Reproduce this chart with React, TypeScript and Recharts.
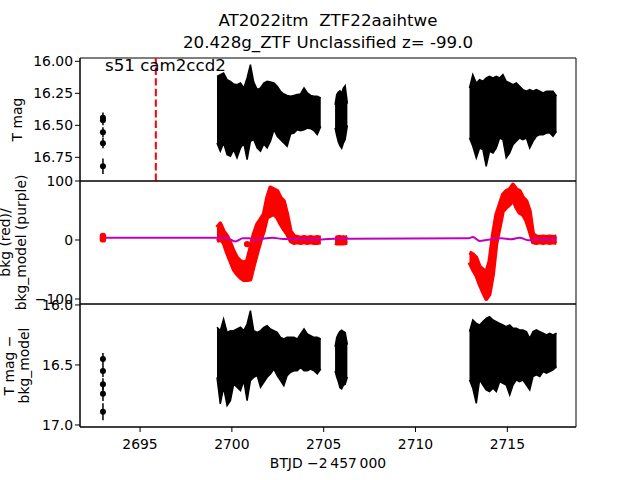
import React from "react";
import {
  ComposedChart,
  Area,
  Line,
  Scatter,
  ErrorBar,
  XAxis,
  YAxis,
  ReferenceLine,
  ReferenceArea,
} from "recharts";

const FONT = "DejaVu Sans, sans-serif";
const X_DOMAIN: [number, number] = [2691.73, 2718.74];

// time grids for the three TESS orbits segments (BTJD - 2457000)
const daysA = [
  2699.19, 2699.37, 2699.55, 2699.74, 2699.92, 2700.1, 2700.28, 2700.47, 2700.65, 2700.83,
  2701.01, 2701.19, 2701.38, 2701.56, 2701.74, 2701.92, 2702.1, 2702.29, 2702.47, 2702.65,
  2702.83, 2703.01, 2703.2, 2703.38, 2703.56, 2703.74, 2703.93, 2704.11, 2704.29, 2704.47,
  2704.65, 2704.84,
];
const daysB = [2705.62, 2705.71, 2705.8, 2705.89, 2705.98, 2706.07, 2706.17, 2706.29];
const daysC = [
  2712.94, 2713.12, 2713.31, 2713.49, 2713.67, 2713.85, 2714.03, 2714.22, 2714.4, 2714.58,
  2714.76, 2714.94, 2715.13, 2715.31, 2715.49, 2715.67, 2715.85, 2716.04, 2716.22, 2716.4,
  2716.58, 2716.77, 2716.95, 2717.13, 2717.31, 2717.49, 2717.68,
];

// T mag: upper / lower edge of the errorbar cloud
const magTopA = [
  16.117, 16.104, 16.091, 16.143, 16.156, 16.177, 16.182, 16.169, 16.208, 16.13, 16.026, 16.162,
  16.221, 16.208, 16.169, 16.156, 16.162, 16.169, 16.195, 16.234, 16.255, 16.266, 16.273, 16.266,
  16.26, 16.255, 16.208, 16.247, 16.266, 16.273, 16.273, 16.286,
];
const magBotA = [
  16.638, 16.703, 16.638, 16.729, 16.742, 16.69, 16.755, 16.677, 16.638, 16.768, 16.625, 16.612,
  16.677, 16.703, 16.646, 16.677, 16.625, 16.534, 16.586, 16.612, 16.638, 16.664, 16.568, 16.56,
  16.534, 16.542, 16.534, 16.521, 16.526, 16.542, 16.573, 16.508,
];
const magTopB = [16.34, 16.26, 16.24, 16.23, 16.25, 16.21, 16.19, 16.33];
const magBotB = [16.52, 16.58, 16.63, 16.66, 16.68, 16.64, 16.61, 16.5];
const magTopC = [
  16.208, 16.104, 16.169, 16.143, 16.156, 16.13, 16.117, 16.13, 16.117, 16.13, 16.104, 16.156,
  16.169, 16.182, 16.169, 16.195, 16.221, 16.234, 16.221, 16.234, 16.221, 16.234, 16.247, 16.234,
  16.234, 16.234, 16.273,
];
const magBotC = [
  16.599, 16.664, 16.755, 16.677, 16.69, 16.82, 16.703, 16.716, 16.677, 16.599, 16.612, 16.755,
  16.716, 16.651, 16.625, 16.599, 16.612, 16.599, 16.677, 16.625, 16.586, 16.573, 16.573, 16.56,
  16.56, 16.586, 16.547,
];
const earlyDay = 2692.98;
const earlyMag = [16.44, 16.46, 16.555, 16.64, 16.82];
const earlyErr = [0.04, 0.04, 0.04, 0.04, 0.06];

// bkg (red) band
const bkgHiA = [
  21, 28, 15, 7, -5, -19, -30, -36, -38, -35, -13, 10, 27, 35, 44, 72, 89, 86, 83, 72, 66, 44, 15,
  7, 5, 4, 5, 4, 5, 4, 5, 4,
];
const bkgLoA = [
  -2, 1, -5, -22, -36, -50, -58, -64, -68, -68, -67, -44, -22, -2, 15, 38, 41, 44, 38, 27, 18, 10,
  -2, -5, -4, -5, -4, -5, -4, -5, -5, -4,
];
const bkgHiB = [5, 4, 5, 5, 4, 5, 4, 5];
const bkgLoB = [-5, -6, -5, -6, -5, -6, -5, -5];
const bkgHiC = [
  -21, -24, -30, -45, -50, -55, -36, 10, 43, 60, 77, 83, 86, 94, 86, 83, 72, 66, 49, 10, 6, 5, 6,
  5, 6, 5, 6,
];
const bkgLoC = [
  -38, -50, -60, -75, -88, -100, -92, -58, -7, 21, 49, 55, 60, 69, 55, 46, 43, 32, 15, -4, -5, -4,
  -5, -4, -5, -4, -5,
];
const bkgEarly = [7, 5, 3, 1];
const bkgStray = [{ t: 2700.83, b: -7 }];

// bkg_model (purple)
const modelDays = [
  2692.98, 2699.19, 2699.7, 2700.19, 2700.6, 2700.95, 2701.2, 2701.6, 2702.2, 2702.8, 2704.9,
  2705.6, 2706.3, 2712.9, 2713.12, 2713.5, 2713.94, 2714.67, 2715.2, 2715.67, 2716.13, 2716.6,
  2717.68,
];
const modelVals = [
  4, 4, 3.5, -2.5, 3, 3, -0.5, 1.5, 4, 1.5, 1, 2, 2, 2.8, 5, -1.7, 0.5, 2.8, 1.1, 4, -0.5, 0.8, 0.8,
];

// T mag - bkg_model
const subTopA = [
  16.186, 16.214, 16.117, 16.228, 16.214, 16.214, 16.2, 16.186, 16.214, 16.159, 16.047, 16.214,
  16.228, 16.214, 16.186, 16.172, 16.2, 16.214, 16.228, 16.27, 16.284, 16.27, 16.27, 16.27, 16.284,
  16.242, 16.2, 16.242, 16.256, 16.27, 16.27, 16.284,
];
const subBotA = [
  16.603, 16.825, 16.686, 16.839, 16.798, 16.659, 16.686, 16.714, 16.631, 16.798, 16.631, 16.603,
  16.589, 16.686, 16.645, 16.603, 16.575, 16.534, 16.589, 16.631, 16.673, 16.589, 16.561, 16.548,
  16.548, 16.52, 16.548, 16.548, 16.534, 16.548, 16.575, 16.534,
];
const subTopB = [16.35, 16.27, 16.24, 16.22, 16.21, 16.22, 16.23, 16.33];
const subBotB = [16.55, 16.6, 16.64, 16.69, 16.7, 16.67, 16.66, 16.6];
const subTopC = [
  16.222, 16.125, 16.153, 16.167, 16.139, 16.111, 16.097, 16.125, 16.139, 16.153, 16.167, 16.181,
  16.167, 16.194, 16.194, 16.208, 16.208, 16.222, 16.278, 16.222, 16.208, 16.222, 16.236, 16.25,
  16.236, 16.25, 16.236,
];
const subBotC = [
  16.625, 16.694, 16.82, 16.625, 16.667, 16.708, 16.722, 16.694, 16.722, 16.639, 16.653, 16.667,
  16.75, 16.667, 16.625, 16.639, 16.625, 16.667, 16.708, 16.597, 16.583, 16.597, 16.556, 16.569,
  16.556, 16.542, 16.514,
];
const subEarlyMag = [16.45, 16.55, 16.66, 16.74, 16.89];
const subEarlyErr = [0.05, 0.05, 0.05, 0.06, 0.07];

const sectorLine = 2695.86;
const xTicks = [2695, 2700, 2705, 2710, 2715];

const band = (days: number[], lo: number[], hi: number[]) =>
  days.map((t, i) => ({ t, v: [lo[i], hi[i]] }));
const points = (mags: number[], errs: number[]) =>
  mags.map((m, i) => ({ t: earlyDay, m, e: errs[i] }));

const tickStyle = { fill: "#000", fontSize: 13.9, fontFamily: FONT };

const blackDot = (p: any) => <circle cx={p.cx} cy={p.cy} r={3} fill="#000" />;
const redDot = (p: any) => <circle cx={p.cx} cy={p.cy} r={3.2} fill="#ff0000" />;

function AxisTitle({ lines, xs, cy }: { lines: string[]; xs: number[]; cy: number }) {
  return (
    <g>
      {lines.map((s, i) => (
        <text
          key={i}
          x={xs[i]}
          y={cy}
          transform={`rotate(-90 ${xs[i]} ${cy})`}
          textAnchor="middle"
          fontFamily={FONT}
          fontSize={13.9}
          fill="#000"
        >
          {s}
        </text>
      ))}
    </g>
  );
}

function XTitle() {
  return (
    <text x={328} y={468} textAnchor="middle" fontFamily={FONT} fontSize={13.9} fill="#000">
      {"BTJD \u22122\u2009457\u2009000"}
    </text>
  );
}

const minus = (v: number, d: number) => (v < 0 ? "\u2212" + Math.abs(v).toFixed(d) : v.toFixed(d));

function MagPanel() {
  const dom: [number, number] = [15.974, 16.935];
  return (
    <ComposedChart width={640} height={480} margin={{ top: 58, right: 64, bottom: 299, left: 20 }}>
      <XAxis type="number" dataKey="t" domain={X_DOMAIN} allowDataOverflow hide height={0} />
      <YAxis
        type="number"
        domain={dom}
        reversed
        allowDataOverflow
        ticks={[16, 16.25, 16.5, 16.75]}
        tickFormatter={(v) => v.toFixed(2)}
        width={60}
        tickSize={5}
        tickMargin={2}
        stroke="#000"
        tick={tickStyle}
        label={<AxisTitle lines={["T mag"]} xs={[22]} cy={119.5} />}
      />
      <ReferenceLine x={sectorLine} stroke="#ff0000" strokeWidth={2} strokeDasharray="7.4 3.2" />
      <Area data={band(daysA, magTopA, magBotA)} dataKey="v" type="linear" stroke="#000" strokeWidth={1.5} fill="#000" fillOpacity={1} isAnimationActive={false} />
      <Area data={band(daysB, magTopB, magBotB)} dataKey="v" type="linear" stroke="#000" strokeWidth={1.5} fill="#000" fillOpacity={1} isAnimationActive={false} />
      <Area data={band(daysC, magTopC, magBotC)} dataKey="v" type="linear" stroke="#000" strokeWidth={1.5} fill="#000" fillOpacity={1} isAnimationActive={false} />
      <Scatter data={points(earlyMag, earlyErr)} dataKey="m" shape={blackDot} isAnimationActive={false}>
        <ErrorBar dataKey="e" direction="y" width={0} stroke="#000" strokeWidth={1.5} />
      </Scatter>
      <ReferenceArea x1={X_DOMAIN[0]} x2={X_DOMAIN[1]} y1={dom[0]} y2={dom[1]} fill="none" stroke="#000" strokeWidth={1} />
    </ComposedChart>
  );
}

function BkgPanel() {
  const dom: [number, number] = [-108.5, 100];
  return (
    <ComposedChart width={640} height={480} margin={{ top: 181, right: 64, bottom: 176, left: 20 }}>
      <XAxis type="number" dataKey="t" domain={X_DOMAIN} allowDataOverflow hide height={0} />
      <YAxis
        type="number"
        domain={dom}
        allowDataOverflow
        ticks={[-100, 0, 100]}
        tickFormatter={(v) => minus(v, 0)}
        width={60}
        tickSize={5}
        tickMargin={2}
        stroke="#000"
        tick={tickStyle}
        label={<AxisTitle lines={["bkg (red)/", "bkg_model (purple)"]} xs={[10, 26]} cy={242.5} />}
      />
      <Area data={band(daysA, bkgLoA, bkgHiA)} dataKey="v" type="linear" stroke="#ff0000" strokeWidth={4} strokeLinejoin="round" fill="#ff0000" fillOpacity={1} isAnimationActive={false} />
      <Area data={band(daysB, bkgLoB, bkgHiB)} dataKey="v" type="linear" stroke="#ff0000" strokeWidth={4} strokeLinejoin="round" fill="#ff0000" fillOpacity={1} isAnimationActive={false} />
      <Area data={band(daysC, bkgLoC, bkgHiC)} dataKey="v" type="linear" stroke="#ff0000" strokeWidth={4} strokeLinejoin="round" fill="#ff0000" fillOpacity={1} isAnimationActive={false} />
      <Scatter data={bkgEarly.map((b) => ({ t: earlyDay, b })).concat(bkgStray)} dataKey="b" shape={redDot} isAnimationActive={false} />
      <Line
        data={modelDays.map((t, i) => ({ t, p: modelVals[i] }))}
        dataKey="p"
        type="monotone"
        stroke="#bf00bf"
        strokeWidth={2}
        dot={false}
        isAnimationActive={false}
      />
      <ReferenceArea x1={X_DOMAIN[0]} x2={X_DOMAIN[1]} y1={dom[0]} y2={dom[1]} fill="none" stroke="#000" strokeWidth={1} />
    </ComposedChart>
  );
}

function SubPanel() {
  const dom: [number, number] = [15.992, 17.017];
  return (
    <ComposedChart width={640} height={480} margin={{ top: 304, right: 64, bottom: 23, left: 20 }}>
      <XAxis
        type="number"
        dataKey="t"
        domain={X_DOMAIN}
        allowDataOverflow
        ticks={xTicks}
        height={30}
        tickSize={5}
        tickMargin={7}
        stroke="#000"
        tick={tickStyle}
        label={<XTitle />}
      />
      <YAxis
        type="number"
        domain={dom}
        reversed
        allowDataOverflow
        ticks={[16, 16.5, 17]}
        tickFormatter={(v) => v.toFixed(1)}
        width={60}
        tickSize={5}
        tickMargin={2}
        stroke="#000"
        tick={tickStyle}
        label={<AxisTitle lines={["T mag \u2212", "bkg_model"]} xs={[13.5, 29]} cy={365.5} />}
      />
      <Area data={band(daysA, subTopA, subBotA)} dataKey="v" type="linear" stroke="#000" strokeWidth={1.5} fill="#000" fillOpacity={1} isAnimationActive={false} />
      <Area data={band(daysB, subTopB, subBotB)} dataKey="v" type="linear" stroke="#000" strokeWidth={1.5} fill="#000" fillOpacity={1} isAnimationActive={false} />
      <Area data={band(daysC, subTopC, subBotC)} dataKey="v" type="linear" stroke="#000" strokeWidth={1.5} fill="#000" fillOpacity={1} isAnimationActive={false} />
      <Scatter data={points(subEarlyMag, subEarlyErr)} dataKey="m" shape={blackDot} isAnimationActive={false}>
        <ErrorBar dataKey="e" direction="y" width={0} stroke="#000" strokeWidth={1.5} />
      </Scatter>
      <ReferenceArea x1={X_DOMAIN[0]} x2={X_DOMAIN[1]} y1={dom[0]} y2={dom[1]} fill="none" stroke="#000" strokeWidth={1} />
    </ComposedChart>
  );
}

const layer: React.CSSProperties = { position: "absolute", left: 0, top: 0 };

export default function App() {
  return (
    <div style={{ position: "absolute", left: 0, top: 0, width: 640, height: 480, background: "#fff" }}>
      <div style={layer}><MagPanel /></div>
      <div style={layer}><BkgPanel /></div>
      <div style={layer}><SubPanel /></div>
      <svg width={640} height={480} style={{ ...layer, pointerEvents: "none" }}>
        <g fontFamily={FONT} fill="#000">
          <text x={328} y={26} textAnchor="middle" fontSize={16.67} style={{ whiteSpace: "pre" }}>
            {"AT2022itm  ZTF22aaihtwe"}
          </text>
          <text x={328} y={48} textAnchor="middle" fontSize={16.67}>
            20.428g_ZTF Unclassified z= -99.0
          </text>
          <text x={105} y={71} fontSize={16.67}>
            s51 cam2ccd2
          </text>
        </g>
      </svg>
    </div>
  );
}
